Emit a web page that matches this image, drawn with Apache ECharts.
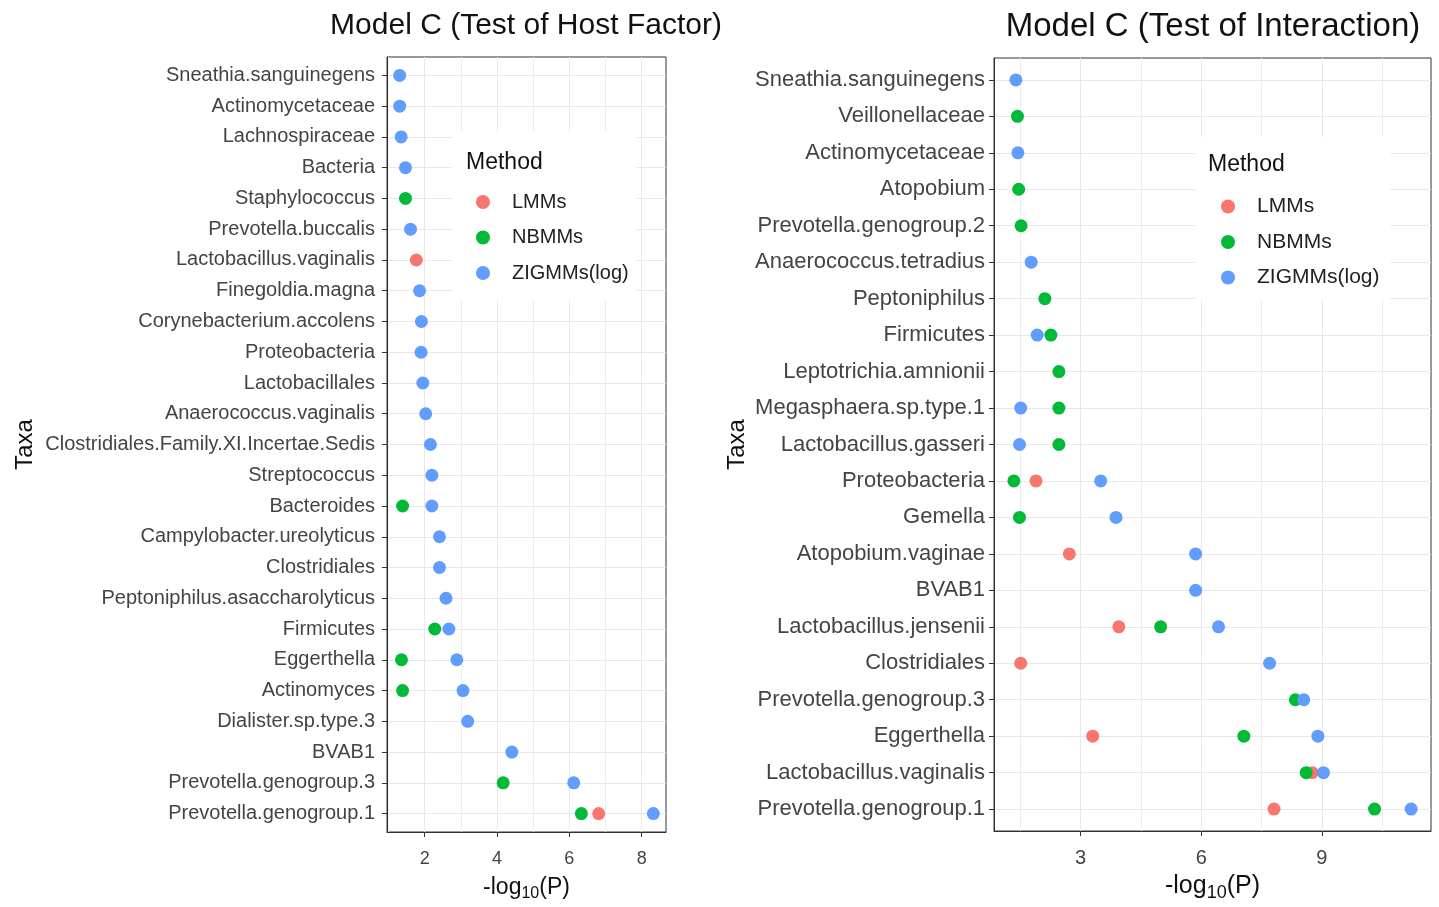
<!DOCTYPE html>
<html><head><meta charset="utf-8">
<script src="https://cdn.jsdelivr.net/npm/echarts@6/dist/echarts.min.js"></script>
<style>html,body{margin:0;padding:0;background:#fff}#c{width:1439px;height:907px}</style>
</head><body><div id="c"></div><script>
// ---------- Data: Model C (Test of Host Factor) ----------
const hostTaxa = ['Sneathia.sanguinegens','Actinomycetaceae','Lachnospiraceae','Bacteria','Staphylococcus',
  'Prevotella.buccalis','Lactobacillus.vaginalis','Finegoldia.magna','Corynebacterium.accolens','Proteobacteria',
  'Lactobacillales','Anaerococcus.vaginalis','Clostridiales.Family.XI.Incertae.Sedis','Streptococcus','Bacteroides',
  'Campylobacter.ureolyticus','Clostridiales','Peptoniphilus.asaccharolyticus','Firmicutes','Eggerthella',
  'Actinomyces','Dialister.sp.type.3','BVAB1','Prevotella.genogroup.3','Prevotella.genogroup.1'];
const hostLMMs   = [null,null,null,null,null,null,1.77,null,null,null,null,null,null,null,null,null,null,null,null,null,null,null,null,null,6.81];
const hostNBMMs  = [null,null,null,null,1.47,null,null,null,null,null,null,null,null,null,1.39,null,null,null,2.28,1.36,1.39,null,null,4.17,6.33];
const hostZIGMMs = [1.31,1.31,1.35,1.47,null,1.61,null,1.86,1.91,1.90,1.95,2.03,2.16,2.20,2.20,2.41,2.41,2.59,2.67,2.89,3.06,3.19,4.41,6.12,8.32];
const hostTicks  = [2,4,6,8];

// ---------- Data: Model C (Test of Interaction) ----------
const interTaxa = ['Sneathia.sanguinegens','Veillonellaceae','Actinomycetaceae','Atopobium','Prevotella.genogroup.2',
  'Anaerococcus.tetradius','Peptoniphilus','Firmicutes','Leptotrichia.amnionii','Megasphaera.sp.type.1',
  'Lactobacillus.gasseri','Proteobacteria','Gemella','Atopobium.vaginae','BVAB1','Lactobacillus.jensenii',
  'Clostridiales','Prevotella.genogroup.3','Eggerthella','Lactobacillus.vaginalis','Prevotella.genogroup.1'];
const interLMMs   = [null,null,null,null,null,null,null,null,null,null,null,1.89,null,2.72,null,3.95,1.51,null,3.30,8.76,7.81];
const interNBMMs  = [null,1.43,null,1.46,1.52,null,2.11,2.26,2.46,2.46,2.46,1.34,1.48,null,null,4.99,null,8.34,7.06,8.61,10.31];
const interZIGMMs = [1.39,null,1.44,null,null,1.77,null,1.92,null,1.51,1.48,3.50,3.88,5.86,5.86,6.43,7.70,8.55,8.90,9.04,11.22];
const interTicks  = [3,6,9];

const methods = ['LMMs','NBMMs','ZIGMMs(log)'];
const colors  = ['#F8766D','#00BA38','#619CFF'];
const FONT = '"Liberation Sans", Arial, Helvetica, sans-serif';

function ggRange(arrs){
  const v = arrs.flat().filter(x => x != null);
  const lo = Math.min(...v), hi = Math.max(...v), pad = (hi - lo) * 0.05;
  return [lo - pad, hi + pad];
}
function pts(vals){
  const out = [];
  vals.forEach((v, i) => { if (v != null) out.push([v, i]); });
  return out;
}
function xAxisFor(gi, range, ticks, split, labelSize, nameSize, margin, nameGap){
  return {
    type:'value', gridIndex:gi, min:range[0], max:range[1], splitNumber:split,
    axisLine:{show:true, onZero:false, lineStyle:{color:'#333', width:1}},
    axisTick:{show:true, length:5, customValues:ticks, lineStyle:{color:'#333'}},
    axisLabel:{customValues:ticks, fontSize:labelSize, color:'#444', margin:margin, fontFamily:FONT},
    splitLine:{show:true, lineStyle:{color:'#e8e8e8', width:1}},
    minorTick:{show:false, splitNumber:2},
    minorSplitLine:{show:true, lineStyle:{color:'#ededed', width:1}},
    name:'-log{s|10}(P)', nameLocation:'middle', nameGap:nameGap,
    nameTextStyle:{fontSize:nameSize, color:'#111', fontFamily:FONT,
      rich:{s:{fontSize:Math.round(nameSize*0.7), color:'#111', fontFamily:FONT, padding:[Math.round(nameSize*0.5),0,0,0]}}}
  };
}
function yAxisFor(gi, taxa, labelSize, nameGap, margin){
  const idx = taxa.map((t, i) => i);
  return {
    type:'value', gridIndex:gi, min:-0.6, max:taxa.length - 1 + 0.6, inverse:true,
    axisLine:{show:true, lineStyle:{color:'#333', width:1}},
    axisTick:{show:true, length:5, customValues:idx, lineStyle:{color:'#333'}},
    axisLabel:{customValues:idx, formatter:v => taxa[Math.round(v)], fontSize:labelSize, color:'#444', margin:margin, fontFamily:FONT},
    splitLine:{show:true, lineStyle:{color:'#e8e8e8', width:1}},
    name:'Taxa', nameLocation:'middle', nameGap:nameGap,
    nameTextStyle:{fontSize:24, color:'#111', fontFamily:FONT}
  };
}
function seriesFor(gi, arrs){
  return arrs.map((vals, k) => ({
    type:'scatter', name:methods[k], xAxisIndex:gi, yAxisIndex:gi,
    symbol:'circle', symbolSize:13, data:pts(vals),
    itemStyle:{color:colors[k], opacity:1}, emphasis:{disabled:true}
  }));
}
function legendFor(left, top, pad, gap, size){
  return {
    orient:'vertical', left:left, top:top, padding:pad, itemGap:gap,
    backgroundColor:'#fff', itemWidth:48, itemHeight:14, icon:'circle', symbolKeepAspect:true,
    selectedMode:false, data:methods,
    textStyle:{fontSize:size, color:'#222', fontFamily:FONT}
  };
}

const hostRange = ggRange([hostLMMs, hostNBMMs, hostZIGMMs]);
const interRange = ggRange([interLMMs, interNBMMs, interZIGMMs]);

const option = {
  animation:false,
  backgroundColor:'#fff',
  textStyle:{fontFamily:FONT},
  title:[
    {text:'Model C (Test of Host Factor)', left:521, top:6, textAlign:'center',
     textStyle:{fontSize:30, fontWeight:'normal', color:'#111', fontFamily:FONT}},
    {text:'Model C (Test of Interaction)', left:1208, top:5, textAlign:'center',
     textStyle:{fontSize:33, fontWeight:'normal', color:'#111', fontFamily:FONT}},
    {text:'Method', left:461, top:146, z:10, textStyle:{fontSize:23, fontWeight:'normal', color:'#111', fontFamily:FONT}},
    {text:'Method', left:1203, top:148, z:10, textStyle:{fontSize:23, fontWeight:'normal', color:'#111', fontFamily:FONT}}
  ],
  legend:[
    legendFor(452, 131, [61, 8, 17, 24], 15.5, 20),
    legendFor(1195, 137, [59, 11, 12, 26], 14.5, 21)
  ],
  grid:[
    {left:387, top:57, width:279, height:785, show:true, borderColor:'#333', borderWidth:1, containLabel:false},
    {left:994, top:58, width:437, height:784, show:true, borderColor:'#333', borderWidth:1, containLabel:false}
  ],
  xAxis:[
    xAxisFor(0, hostRange, hostTicks, 5, 18, 23, 18, 42),
    xAxisFor(1, interRange, interTicks, 4, 20, 25, 17, 40)
  ],
  yAxis:[
    yAxisFor(0, hostTaxa, 20, 350, 12),
    yAxisFor(1, interTaxa, 22, 245, 9)
  ],
  series:[
    ...seriesFor(0, [hostLMMs, hostNBMMs, hostZIGMMs]),
    ...seriesFor(1, [interLMMs, interNBMMs, interZIGMMs])
  ]
};
const chart = echarts.init(document.getElementById('c'), null, {renderer:'canvas'});
chart.setOption(option);
</script></body></html>
